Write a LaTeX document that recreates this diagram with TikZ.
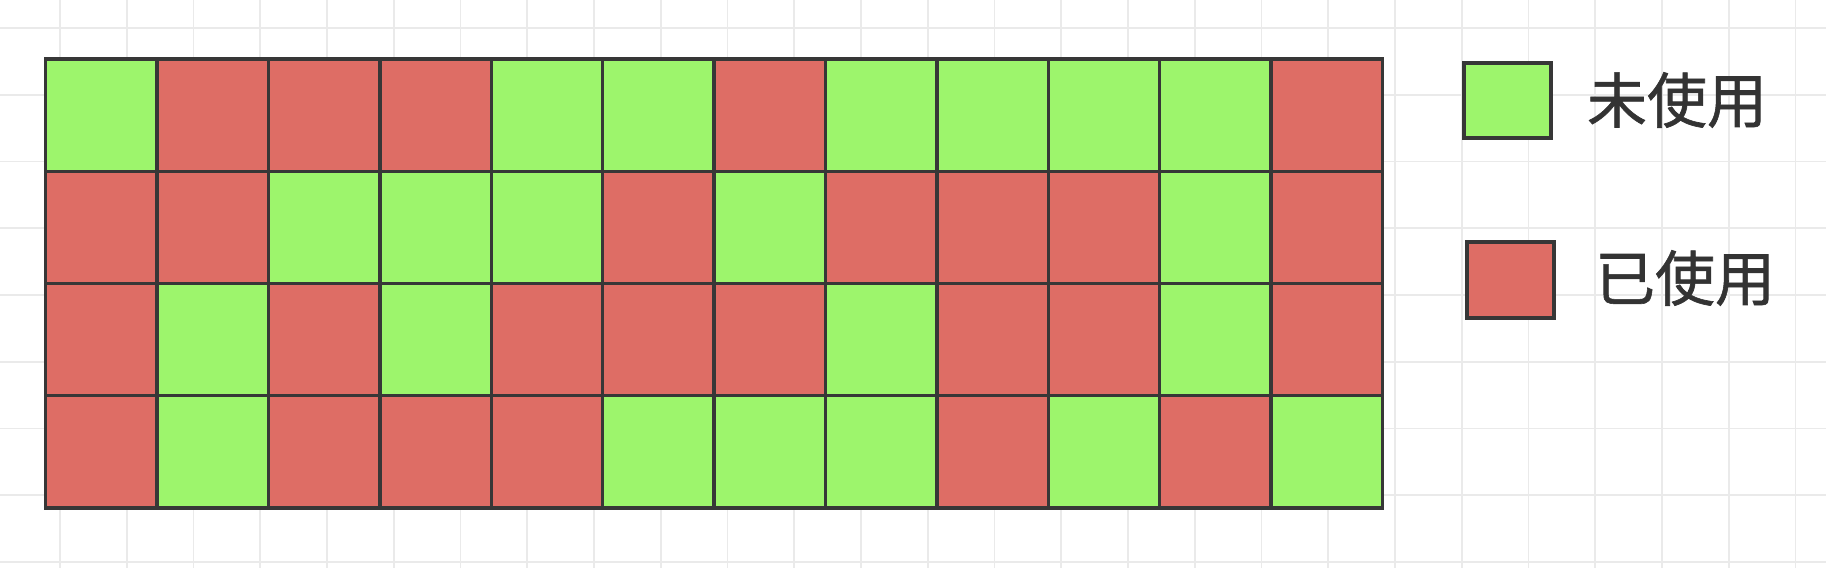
\documentclass[tikz,border=0pt]{standalone}
\usepackage{fontspec}
\newfontfamily\cjk[FakeBold=1]{Noto Sans CJK SC}
\definecolor{freeg}{RGB}{157,245,108}
\definecolor{usedr}{RGB}{222,109,101}
\definecolor{edgec}{RGB}{55,55,55}
\definecolor{bggrid}{RGB}{234,234,234}
\definecolor{txtc}{RGB}{51,51,51}
\tikzset{
  cell/.style={draw=edgec, line width=3.4pt, minimum width=111.4pt, minimum height=112.2pt,
    inner sep=0pt, outer sep=0pt, anchor=north west},
  st G/.style={fill=freeg},
  st R/.style={fill=usedr},
  legbox/.style={draw=edgec, line width=3.4pt, inner sep=0pt, outer sep=0pt, anchor=north west},
  legtext/.style={inner sep=0pt, outer sep=0pt, anchor=west, text=txtc, font=\cjk\fontsize{60}{72}\selectfont},
  bgline/.style={draw=bggrid, line width=1.6pt}
}
\begin{document}
\begin{tikzpicture}[x=1pt,y=-1pt]
\useasboundingbox[fill=white] (0,0) rectangle (1826,568);
% background grid
\foreach \k in {0,...,8} { \draw[bgline] (0,28+66.75*\k) -- (1826,28+66.75*\k); }
\foreach \k in {0,...,26} { \draw[bgline] (60+66.75*\k,0) -- (60+66.75*\k,568); }
% memory cells
\foreach \row [count=\r] in {
  {G,R,R,R,G,G,R,G,G,G,G,R},
  {R,R,G,G,G,R,G,R,R,R,G,R},
  {R,G,R,G,R,R,R,G,R,R,G,R},
  {R,G,R,R,R,G,G,G,R,G,R,G}} {
  \foreach \s [count=\c] in \row {
    \node[cell, st \s] (cell-\r-\c) at ({45.7+111.4*(\c-1)},{59+112.2*(\r-1)}) {};
  }
}
% legend
\node[legbox, fill=freeg, minimum width=87pt, minimum height=75pt] (legfree) at (1464,63) {};
\node[legbox, fill=usedr, minimum width=87pt, minimum height=76pt] (legused) at (1467,242) {};
\node[legtext] (txtfree) at (1587,100) {未使用};
\node[legtext] (txtused) at (1595,278) {已使用};
\end{tikzpicture}
\end{document}
